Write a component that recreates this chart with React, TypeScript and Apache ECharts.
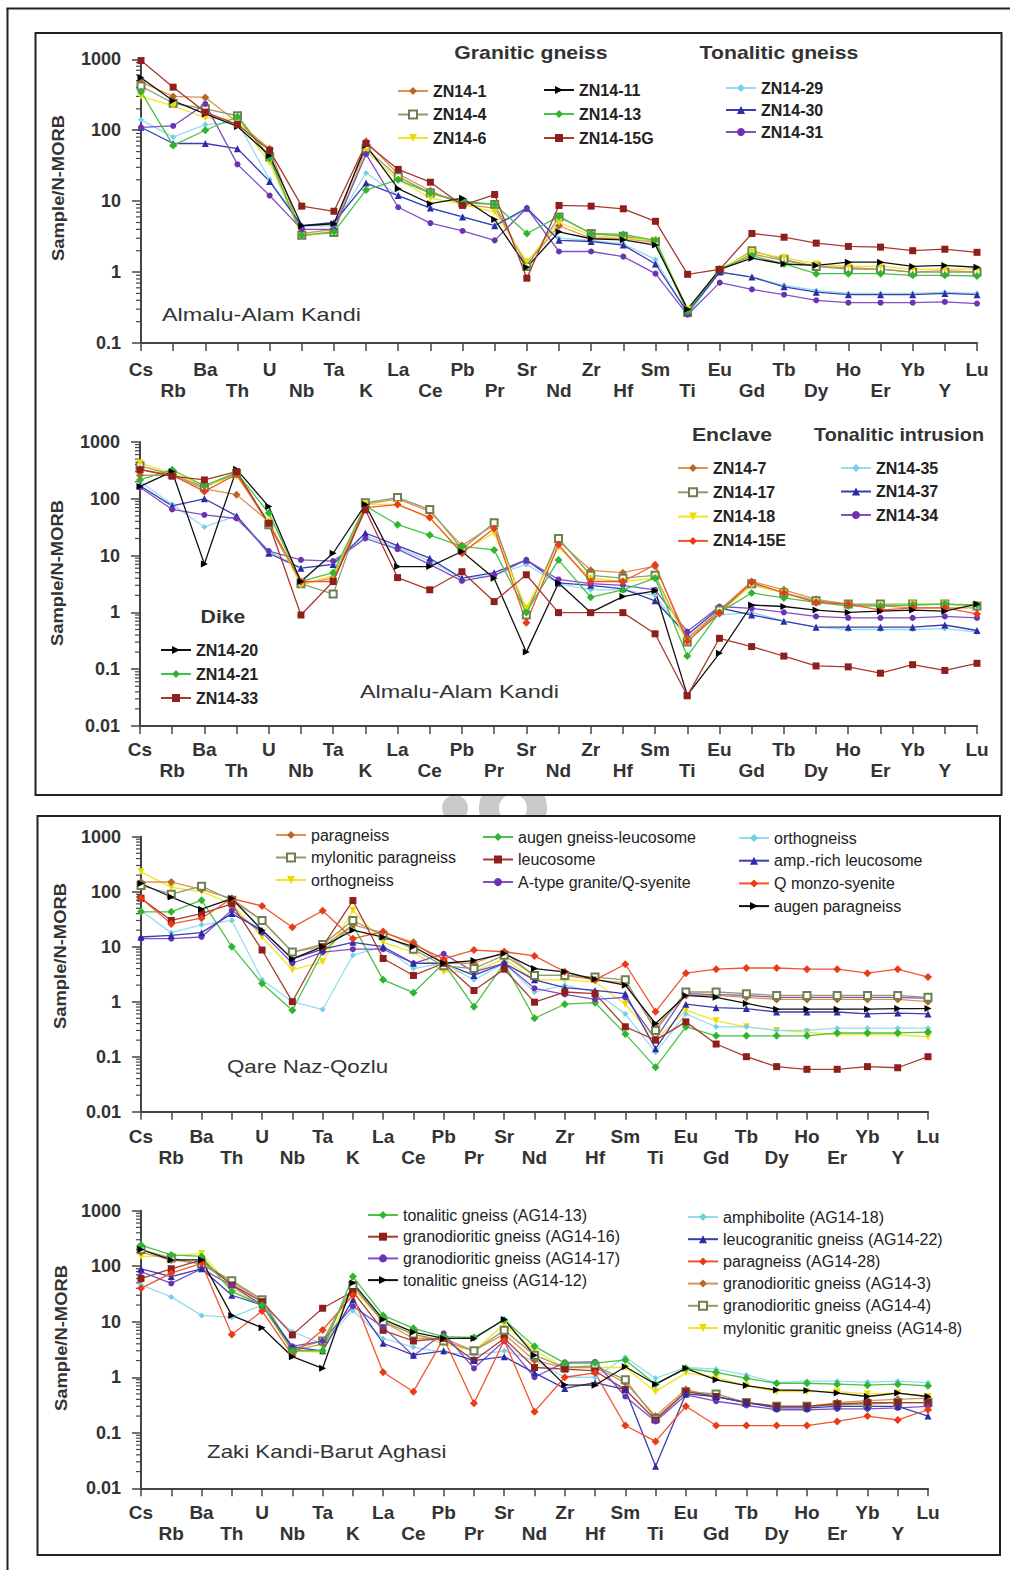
import React, { useEffect, useRef } from 'react';
import * as echarts from 'echarts';

const FONT = '"Liberation Sans", Arial, Helvetica, sans-serif';

// Elements (x categories)
const CATS = ['Cs', 'Rb', 'Ba', 'Th', 'U', 'Nb', 'Ta', 'K', 'La', 'Ce', 'Pb', 'Pr', 'Sr', 'Nd', 'Zr', 'Hf', 'Sm', 'Ti', 'Eu', 'Gd', 'Tb', 'Dy', 'Ho', 'Er', 'Yb', 'Y', 'Lu'];

// y tick labels (decades)
const Y_TICKS_1 = [0.1, 1, 10, 100, 1000];
const Y_TICKS_2 = [0.01, 0.1, 1, 10, 100, 1000];

// ---------- Panel 1: Almalu-Alam Kandi (granitic / tonalitic gneiss) ----------
const ZN14_1 = [480, 300, 290, 130, 55, 3.5, 4.0, 70, 24, 14, 9, 8, 1.3, 4.5, 3.0, 3.0, 2.6, 0.28, 1.1, 1.8, 1.45, 1.2, 1.15, 1.1, 1.0, 1.05, 1.0];
const ZN14_4 = [420, 240, 200, 160, 42, 3.3, 3.6, 55, 22, 13, 9.5, 9, 1.2, 6, 3.5, 3.2, 2.7, 0.27, 1.05, 2.0, 1.5, 1.2, 1.1, 1.1, 1.0, 1.0, 1.0];
const ZN14_6 = [300, 220, 150, 140, 35, 3.2, 3.8, 50, 20, 11, 9, 7, 1.4, 5, 3.3, 3.0, 2.8, 0.3, 1.1, 1.9, 1.6, 1.3, 1.2, 1.2, 1.1, 1.1, 1.1];
const ZN14_11 = [550, 260, 170, 113, 44, 4.5, 4.8, 61, 15, 9.2, 11, 5.5, 1.17, 3.7, 2.95, 2.85, 2.4, 0.3, 1.09, 1.57, 1.3, 1.24, 1.38, 1.38, 1.2, 1.24, 1.17];
const ZN14_13 = [350, 61, 100, 155, 40, 3.3, 3.7, 14.4, 20, 13, 10, 9, 3.5, 6.1, 3.5, 3.4, 2.8, 0.28, 1.1, 1.7, 1.3, 0.95, 0.95, 0.95, 0.9, 0.9, 0.88];
const ZN14_15G = [960, 405, 180, 120, 52, 8.5, 7.2, 65, 28, 18.5, 8.7, 12.4, 0.82, 8.7, 8.5, 7.8, 5.2, 0.93, 1.09, 3.5, 3.1, 2.56, 2.3, 2.25, 2.0, 2.1, 1.9];
const ZN14_29 = [140, 80, 120, 130, 20, 4.5, 4.5, 25, 12, 8, 6, 4.5, 7.5, 3, 2.8, 2.5, 1.5, 0.25, 1.0, 0.85, 0.65, 0.55, 0.5, 0.5, 0.5, 0.52, 0.5];
const ZN14_30 = [110, 65, 65, 55, 19, 4.5, 5, 18, 12, 8, 6, 4.5, 8, 2.8, 2.7, 2.4, 1.3, 0.27, 1.0, 0.85, 0.62, 0.52, 0.48, 0.48, 0.48, 0.5, 0.48];
const ZN14_31 = [110, 115, 235, 33, 12, 4, 4, 46, 8.2, 4.9, 3.8, 2.8, 8, 1.95, 1.95, 1.65, 0.95, 0.25, 0.71, 0.57, 0.48, 0.4, 0.37, 0.37, 0.37, 0.38, 0.36];

// ---------- Panel 2: Almalu-Alam Kandi (enclave / tonalitic intrusion / dike) ----------
const ZN14_7 = [260, 260, 150, 118, 40, 3.2, 4, 80, 100, 60, 15, 35, 1.0, 18, 5.5, 5, 6.5, 0.35, 1.1, 3.5, 2.5, 1.7, 1.4, 1.3, 1.2, 1.2, 1.2];
const ZN14_17 = [380, 270, 160, 280, 35, 3.2, 2.1, 85, 105, 65, 13, 38, 0.9, 20, 4.5, 4, 4.5, 0.3, 1.1, 3.2, 2.2, 1.6, 1.4, 1.4, 1.4, 1.4, 1.3];
const ZN14_18 = [430, 280, 170, 250, 40, 3.0, 4.5, 80, 80, 45, 12, 25, 1.2, 14, 4, 3.5, 4, 0.3, 1.0, 3, 2.2, 1.5, 1.3, 1.3, 1.4, 1.4, 1.3];
const ZN14_15E = [330, 260, 135, 270, 37, 3.5, 3.5, 70, 79, 47, 11, 30, 0.66, 15.5, 3.5, 3.5, 6.9, 0.31, 0.98, 3.4, 2.2, 1.5, 1.4, 1.1, 1.2, 1.2, 0.94];
const ZN14_35 = [200, 80, 32, 50, 12, 6, 7, 22, 14, 8, 4, 4.5, 7, 3.2, 2.5, 2.5, 2.0, 0.35, 0.9, 1.0, 0.7, 0.55, 0.5, 0.5, 0.5, 0.52, 0.45];
const ZN14_37 = [170, 75, 100, 50, 11, 6, 7, 25, 15, 9, 4, 5, 8.4, 3.3, 3.0, 2.6, 1.6, 0.4, 1.2, 0.9, 0.7, 0.55, 0.55, 0.55, 0.55, 0.6, 0.48];
const ZN14_34 = [160, 65, 52, 45, 12, 8.4, 8, 20, 13, 7, 3.6, 4.5, 8.4, 3.8, 3.2, 3.0, 2.5, 0.46, 1.27, 1.18, 1.0, 0.85, 0.8, 0.8, 0.8, 0.85, 0.8];
const ZN14_20 = [165, 300, 7.1, 330, 73, 3.5, 11, 79, 6.4, 6.4, 11.8, 4, 0.2, 3.3, 1.0, 1.9, 2.4, 0.035, 0.19, 1.35, 1.27, 1.1, 1.0, 1.05, 1.1, 1.05, 1.4];
const ZN14_21 = [215, 325, 170, 290, 56, 3.5, 5, 75, 35, 23, 14.5, 12.6, 1.0, 8.4, 1.85, 2.5, 4, 0.17, 1.0, 2.2, 1.8, 1.5, 1.3, 1.3, 1.35, 1.4, 1.35];
const ZN14_33 = [325, 250, 215, 300, 37, 0.9, 3.5, 64, 4.1, 2.5, 5.2, 1.55, 4.6, 0.99, 0.99, 0.99, 0.42, 0.034, 0.35, 0.25, 0.17, 0.114, 0.11, 0.085, 0.12, 0.095, 0.127];

// ---------- Panel 3: Qare Naz-Qozlu ----------
const QN_PARA = [150, 150, 110, 75, 30, 8, 10, 25, 18, 12, 5, 5, 8, 3, 3, 2.5, 2.2, 0.35, 1.3, 1.3, 1.2, 1.1, 1.1, 1.1, 1.1, 1.1, 1.0];
const QN_MYLO = [130, 90, 126, 70, 30, 8, 11, 30, 16, 9, 4.5, 4, 7, 3, 3, 2.8, 2.5, 0.3, 1.5, 1.5, 1.4, 1.3, 1.3, 1.3, 1.3, 1.3, 1.2];
const QN_ORTHO_Y = [230, 120, 100, 60, 15, 3.8, 5.3, 46, 12, 8, 3.5, 3.5, 6, 2.5, 2.5, 2.3, 0.9, 0.2, 0.7, 0.45, 0.35, 0.3, 0.28, 0.25, 0.25, 0.25, 0.23];
const QN_AUGEN_LEUCO = [43, 43, 70, 10, 2.15, 0.7, 8, 25, 2.5, 1.46, 5, 0.81, 5, 0.5, 0.9, 0.96, 0.26, 0.064, 0.35, 0.24, 0.24, 0.24, 0.24, 0.27, 0.27, 0.27, 0.28];
const QN_LEUCO = [76, 30, 40, 60, 8.7, 1.0, 10, 69, 6.1, 3.0, 5, 1.6, 3.9, 0.98, 1.5, 1.4, 0.35, 0.2, 0.43, 0.17, 0.1, 0.066, 0.059, 0.059, 0.066, 0.063, 0.1];
const QN_ATYPE = [14, 14, 15, 46, 18, 5, 8, 9, 9, 5, 7.4, 3.5, 5, 1.75, 1.36, 1.1, 1.2, 0.21, 1.4, 1.35, 1.3, 1.2, 1.2, 1.2, 1.2, 1.2, 1.15];
const QN_ORTHO_C = [45, 18, 25, 30, 2.5, 1.0, 0.72, 7, 10, 4, 5, 2.5, 5, 1.5, 2, 1.5, 0.6, 0.12, 0.6, 0.35, 0.35, 0.3, 0.3, 0.33, 0.33, 0.33, 0.33];
const QN_AMP = [15, 16, 18, 40, 20, 6, 9, 12, 10, 5, 5, 3, 5, 2.5, 1.8, 1.6, 1.4, 0.14, 0.9, 0.78, 0.75, 0.65, 0.65, 0.65, 0.6, 0.62, 0.6];
const QN_QMONZO = [76, 26, 33, 75, 55, 22.5, 45, 14, 18.8, 11, 6, 8.7, 8.1, 6.8, 3.5, 2.5, 4.8, 0.66, 3.3, 3.9, 4.1, 4.1, 3.9, 3.9, 3.3, 3.9, 2.8];
const QN_AUGEN_PARA = [141, 80, 48, 75, 20, 6, 10, 20, 15, 10, 5, 5.6, 7.5, 4, 3.5, 2.55, 2.0, 0.4, 1.3, 1.2, 0.93, 0.73, 0.73, 0.73, 0.73, 0.75, 0.75];

// ---------- Panel 4: Zaki Kandi-Barut Aghasi ----------
const AG14_13 = [240, 160, 150, 35, 20, 3, 3, 65, 13, 7.6, 5.4, 5.2, 10.8, 3.6, 1.8, 1.8, 2.05, 0.75, 1.45, 1.23, 0.96, 0.78, 0.78, 0.75, 0.72, 0.75, 0.7];
const AG14_16 = [60, 90, 130, 46, 23, 5.8, 17.5, 35, 7, 4.5, 5, 2, 5, 1.5, 1.4, 1.3, 0.6, 0.17, 0.55, 0.45, 0.35, 0.3, 0.3, 0.33, 0.35, 0.35, 0.35];
const AG14_17 = [80, 49, 90, 45, 20, 3.6, 4.5, 19, 8, 2.45, 6.2, 1.45, 4.5, 1.0, 1.86, 1.9, 0.45, 0.16, 0.48, 0.37, 0.31, 0.26, 0.26, 0.27, 0.27, 0.28, 0.3];
const AG14_12 = [200, 130, 130, 13, 7.8, 2.35, 1.45, 50, 11, 6.5, 5, 5, 11, 2.5, 0.73, 0.72, 1.55, 0.75, 1.45, 0.9, 0.71, 0.59, 0.58, 0.52, 0.45, 0.52, 0.45];
const AG14_18 = [46, 28, 13, 12, 20, 6.6, 4, 16, 5, 3.5, 2.8, 2.5, 3, 2, 1.0, 1.0, 2.3, 0.96, 1.5, 1.4, 1.1, 0.8, 0.85, 0.85, 0.82, 0.85, 0.8];
const AG14_22 = [90, 65, 90, 30, 20, 3.5, 3, 25, 4.1, 2.5, 3, 2, 2.35, 1.2, 0.63, 0.8, 0.6, 0.025, 0.5, 0.45, 0.35, 0.28, 0.28, 0.3, 0.3, 0.3, 0.2];
const AG14_28 = [40, 75, 113, 5.9, 15.6, 2.5, 7.1, 30, 1.23, 0.55, 5, 0.34, 4.6, 0.24, 1.0, 1.2, 0.135, 0.07, 0.3, 0.135, 0.135, 0.135, 0.135, 0.16, 0.2, 0.17, 0.26];
const AG14_3 = [180, 130, 110, 50, 25, 3, 4, 45, 10, 5, 5, 3, 6, 2, 1.5, 1.5, 0.8, 0.2, 0.6, 0.45, 0.35, 0.3, 0.3, 0.35, 0.38, 0.4, 0.42];
const AG14_4 = [200, 140, 110, 55, 25, 3.2, 4.5, 45, 10, 6, 4.5, 3, 7, 2.5, 1.5, 1.6, 0.9, 0.18, 0.55, 0.5, 0.35, 0.3, 0.3, 0.32, 0.33, 0.35, 0.35];
const AG14_8 = [150, 150, 170, 40, 20, 3, 2.8, 40, 10, 6, 4, 3, 9, 3, 1.5, 1.5, 1.5, 0.55, 1.2, 1.0, 0.7, 0.55, 0.55, 0.55, 0.5, 0.52, 0.45];

// Marker / line styles
const ST: Record<string, any> = {
  orange: { line: '#e0914c', fill: '#b8662a', symbol: 'diamond', size: 8, rot: 0 },
  olive: { line: '#8d9d6f', fill: '#6f8050', symbol: 'emptyRect', size: 7, rot: 0 },
  yellow: { line: '#f2e526', fill: '#eadc00', symbol: 'triangle', size: 7, rot: 180 },
  black: { line: '#111111', fill: '#000000', symbol: 'triangle', size: 7, rot: -90 },
  green: { line: '#47c447', fill: '#2fb52f', symbol: 'diamond', size: 8, rot: 0 },
  darkred: { line: '#a83a30', fill: '#8e1f1a', symbol: 'rect', size: 7, rot: 0 },
  cyan: { line: '#96dcee', fill: '#73cfe6', symbol: 'diamond', size: 6, rot: 0 },
  blue: { line: '#3c3cb4', fill: '#2b2ba3', symbol: 'triangle', size: 7, rot: 0 },
  purple: { line: '#8050c4', fill: '#6b32b2', symbol: 'circle', size: 6, rot: 0 },
  red: { line: '#f2552e', fill: '#ea3a18', symbol: 'diamond', size: 8, rot: 0 },
};

// panel geometry
const PANELS = [
  { left: 141, right: 39, top: 59.3, height: 283.7, ticks: Y_TICKS_1, labelMargin: 16 },
  { left: 140, right: 39, top: 442, height: 284, ticks: Y_TICKS_2, labelMargin: 13 },
  { left: 141, right: 88, top: 836.7, height: 275, ticks: Y_TICKS_2, labelMargin: 14 },
  { left: 141, right: 88, top: 1210.7, height: 277.6, ticks: Y_TICKS_2, labelMargin: 14 },
];

// series per panel: [name, data, style]
const SERIES: [string, number[], string][][] = [
  [
    ['ZN14-1', ZN14_1, 'orange'], ['ZN14-4', ZN14_4, 'olive'], ['ZN14-6', ZN14_6, 'yellow'],
    ['ZN14-29', ZN14_29, 'cyan'], ['ZN14-30', ZN14_30, 'blue'], ['ZN14-31', ZN14_31, 'purple'],
    ['ZN14-13', ZN14_13, 'green'], ['ZN14-11', ZN14_11, 'black'], ['ZN14-15G', ZN14_15G, 'darkred'],
  ],
  [
    ['ZN14-35', ZN14_35, 'cyan'], ['ZN14-37', ZN14_37, 'blue'], ['ZN14-34', ZN14_34, 'purple'],
    ['ZN14-7', ZN14_7, 'orange'], ['ZN14-17', ZN14_17, 'olive'], ['ZN14-18', ZN14_18, 'yellow'],
    ['ZN14-21', ZN14_21, 'green'], ['ZN14-15E', ZN14_15E, 'red'], ['ZN14-20', ZN14_20, 'black'], ['ZN14-33', ZN14_33, 'darkred'],
  ],
  [
    ['orthogneiss', QN_ORTHO_Y, 'yellow'], ['orthogneiss#2', QN_ORTHO_C, 'cyan'], ['augen gneiss-leucosome', QN_AUGEN_LEUCO, 'green'],
    ['A-type granite/Q-syenite', QN_ATYPE, 'purple'], ['amp.-rich leucosome', QN_AMP, 'blue'],
    ['paragneiss', QN_PARA, 'orange'], ['mylonitic paragneiss', QN_MYLO, 'olive'],
    ['leucosome', QN_LEUCO, 'darkred'], ['Q monzo-syenite', QN_QMONZO, 'red'], ['augen paragneiss', QN_AUGEN_PARA, 'black'],
  ],
  [
    ['amphibolite (AG14-18)', AG14_18, 'cyan'], ['mylonitic granitic gneiss (AG14-8)', AG14_8, 'yellow'],
    ['granodioritic gneiss (AG14-3)', AG14_3, 'orange'], ['granodioritic gneiss (AG14-4)', AG14_4, 'olive'],
    ['granodioritic gneiss (AG14-16)', AG14_16, 'darkred'], ['granodioritic gneiss (AG14-17)', AG14_17, 'purple'],
    ['leucogranitic gneiss (AG14-22)', AG14_22, 'blue'], ['paragneiss (AG14-28)', AG14_28, 'red'],
    ['tonalitic gneiss (AG14-13)', AG14_13, 'green'], ['tonalitic gneiss (AG14-12)', AG14_12, 'black'],
  ],
];

// legend blocks: names, left, top, row gap, font size, bold
const LEGENDS: [string[], number, number, number, number, boolean][] = [
  [['ZN14-1', 'ZN14-4', 'ZN14-6'], 397, 81, 3.5, 16, true],
  [['ZN14-11', 'ZN14-13', 'ZN14-15G'], 543, 80, 4, 16, true],
  [['ZN14-29', 'ZN14-30', 'ZN14-31'], 725, 78, 2, 16, true],
  [['ZN14-7', 'ZN14-17', 'ZN14-18', 'ZN14-15E'], 677, 458, 4.3, 16, true],
  [['ZN14-35', 'ZN14-37', 'ZN14-34'], 840, 458, 3.5, 16, true],
  [['ZN14-20', 'ZN14-21', 'ZN14-33'], 160, 640, 4, 16, true],
  [['paragneiss', 'mylonitic paragneiss', 'orthogneiss'], 275, 825, 2.5, 16, false],
  [['augen gneiss-leucosome', 'leucosome', 'A-type granite/Q-syenite'], 482, 827, 2.5, 16, false],
  [['orthogneiss#2', 'amp.-rich leucosome', 'Q monzo-syenite', 'augen paragneiss'], 738, 828, 2.7, 16, false],
  [['tonalitic gneiss (AG14-13)', 'granodioritic gneiss (AG14-16)', 'granodioritic gneiss (AG14-17)', 'tonalitic gneiss (AG14-12)'], 367, 1205, 1.7, 16, false],
  [['amphibolite (AG14-18)', 'leucogranitic gneiss (AG14-22)', 'paragneiss (AG14-28)', 'granodioritic gneiss (AG14-3)', 'granodioritic gneiss (AG14-4)', 'mylonitic granitic gneiss (AG14-8)'], 687, 1207, 2.2, 16, false],
];

// free texts: text, x, y, size, bold, align, scaleX
const TEXTS: [string, number, number, number, boolean, string, number][] = [
  ['Granitic gneiss', 531, 53, 18, true, 'center', 1.18],
  ['Tonalitic gneiss', 779, 53, 18, true, 'center', 1.18],
  ['Almalu-Alam Kandi', 162, 315, 18, false, 'left', 1.3],
  ['Enclave', 732, 435, 18, true, 'center', 1.18],
  ['Tonalitic intrusion', 899, 435, 18, true, 'center', 1.1],
  ['Dike', 223, 617, 18, true, 'center', 1.18],
  ['Almalu-Alam Kandi', 360, 692, 18, false, 'left', 1.3],
  ['Qare Naz-Qozlu', 227, 1067, 18, false, 'left', 1.24],
  ['Zaki Kandi-Barut Aghasi', 207, 1452, 18, false, 'left', 1.24],
];

const Y_NAME_POS: [number, number][] = [[58, 188], [57, 573], [60, 956], [61, 1338]];

const fmtY = (v: number) => (v >= 1 ? String(Math.round(v)) : String(parseFloat(v.toPrecision(1))));

export default function App() {
  const ref = useRef<HTMLDivElement>(null);
  useEffect(() => {
    if (!ref.current) return;
    const chart = echarts.init(ref.current, undefined, { renderer: 'svg' });

    const grid = PANELS.map((p) => ({ left: p.left, right: p.right, top: p.top, height: p.height, containLabel: false }));
    const xAxis = PANELS.map((p, i) => ({
      type: 'category', gridIndex: i, data: CATS, boundaryGap: false,
      axisLine: { show: true, lineStyle: { color: '#444', width: 2 } },
      axisTick: { show: true, length: 8, interval: 0, lineStyle: { color: '#444', width: 1.5 } },
      axisLabel: {
        interval: 0, margin: p.labelMargin, color: '#333', fontFamily: FONT, fontSize: 19, fontWeight: 'bold', lineHeight: 21,
        formatter: (v: string, idx: number) => (idx % 2 === 1 ? '\n' + v : v),
      },
      splitLine: { show: false },
    }));
    const yAxis = PANELS.map((p, i) => ({
      type: 'log', logBase: 10, gridIndex: i, min: p.ticks[0], max: p.ticks[p.ticks.length - 1],
      axisLine: { show: true, lineStyle: { color: '#444', width: 2 } },
      axisTick: { show: true, length: 9, lineStyle: { color: '#444', width: 1.5 } },
      axisLabel: { margin: 20, color: '#333', fontFamily: FONT, fontSize: 18, fontWeight: 'bold', formatter: fmtY },
      splitLine: { show: false },
    }));

    const series: any[] = [];
    SERIES.forEach((list, i) => {
      list.forEach(([name, data, sk]) => {
        const s = ST[sk];
        series.push({
          type: 'line', name, data, xAxisIndex: i, yAxisIndex: i,
          symbol: s.symbol, symbolSize: s.size, symbolRotate: s.rot,
          lineStyle: { color: s.line, width: 1.3 },
          itemStyle: { color: s.fill, borderColor: s.fill, borderWidth: s.symbol === 'emptyRect' ? 1.5 : 0 },
          emphasis: { disabled: true }, silent: true, z: 3,
        });
      });
    });

    const legend = LEGENDS.map(([names, left, top, gap, fs, bold]) => ({
      data: names, orient: 'vertical', left, top, itemGap: gap, itemWidth: 30, itemHeight: 10, padding: 0,
      selectedMode: false,
      formatter: (n: string) => n.replace(/#\d+$/, ''),
      textStyle: { fontFamily: FONT, fontSize: fs, fontWeight: bold ? 'bold' : 'normal', color: '#222', lineHeight: 20 },
    }));

    const base: any[] = [];
    // faint watermark between the two boxes
    base.push({ type: 'ellipse', z: -10, silent: true, shape: { cx: 455, cy: 808, rx: 13, ry: 13 }, style: { fill: '#cacaca' } });
    base.push({ type: 'ring', z: -10, silent: true, shape: { cx: 513, cy: 808, r: 34, r0: 14 }, style: { fill: '#cacaca' } });
    // outer frame (left + top)
    base.push({ type: 'line', shape: { x1: 7.5, y1: 8, x2: 7.5, y2: 1570 }, style: { stroke: '#222', lineWidth: 2 }, silent: true });
    base.push({ type: 'line', shape: { x1: 6.5, y1: 8.5, x2: 1010, y2: 8.5 }, style: { stroke: '#222', lineWidth: 2 }, silent: true });
    // panel boxes (white filled, covering the watermark)
    base.push({ type: 'rect', z: -5, shape: { x: 35.5, y: 33, width: 966, height: 762 }, style: { fill: '#fff', stroke: '#222', lineWidth: 2 }, silent: true });
    base.push({ type: 'rect', z: -5, shape: { x: 37.5, y: 816, width: 962.5, height: 739 }, style: { fill: '#fff', stroke: '#222', lineWidth: 2 }, silent: true });
    TEXTS.forEach(([t, x, y, fs, bold, align, sx]) => {
      base.push({
        type: 'text', x, y, scaleX: sx, silent: true,
        style: { text: t, fontFamily: FONT, fontSize: fs, fontWeight: bold ? 'bold' : 'normal', fill: '#333', align, verticalAlign: 'middle' },
      });
    });
    Y_NAME_POS.forEach(([x, y]) => {
      base.push({
        type: 'text', x, y, rotation: Math.PI / 2, scaleX: 1.08, silent: true,
        style: { text: 'Sample/N-MORB', fontFamily: FONT, fontSize: 17, fontWeight: 'bold', fill: '#333', align: 'center', verticalAlign: 'middle' },
      });
    });

    chart.setOption({
      animation: false,
      backgroundColor: '#ffffff',
      grid, xAxis, yAxis, series, legend,
      graphic: { elements: base },
    });

    // logarithmic minor ticks on each y axis
    const ticks: any[] = [];
    PANELS.forEach((p, i) => {
      const lo = Math.round(Math.log10(p.ticks[0]));
      const hi = Math.round(Math.log10(p.ticks[p.ticks.length - 1]));
      for (let d = lo; d < hi; d++) {
        for (let k = 2; k <= 9; k++) {
          const v = k * Math.pow(10, d);
          const y = chart.convertToPixel({ yAxisIndex: i } as any, v) as unknown as number;
          const x = chart.convertToPixel({ xAxisIndex: i } as any, CATS[0]) as unknown as number;
          if (typeof y === 'number' && typeof x === 'number') {
            ticks.push({ type: 'line', silent: true, shape: { x1: x - 5, y1: y, x2: x, y2: y }, style: { stroke: '#444', lineWidth: 1.2 } });
          }
        }
      }
    });
    chart.setOption({ graphic: { elements: [...base, ...ticks] } });

    return () => chart.dispose();
  }, []);

  return <div ref={ref} style={{ position: 'absolute', left: 0, top: 0, width: 1016, height: 1570, background: '#fff' }} />;
}
